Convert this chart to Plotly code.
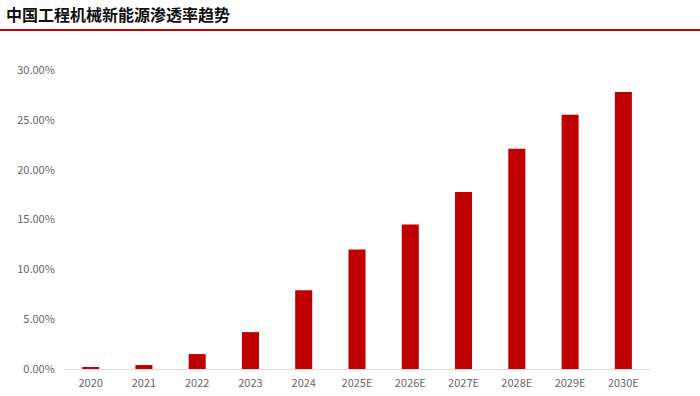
import plotly.graph_objects as go

years = ["2020", "2021", "2022", "2023", "2024", "2025E", "2026E", "2027E", "2028E", "2029E", "2030E"]
penetration = [0.002, 0.004, 0.015, 0.037, 0.079, 0.120, 0.145, 0.1775, 0.221, 0.255, 0.278]
y_ticks = [0, 0.05, 0.10, 0.15, 0.20, 0.25, 0.30]
title_text = "中国工程机械新能源渗透率趋势"

fig = go.Figure(go.Bar(x=years, y=penetration, marker=dict(color="#C00000", line=dict(width=0)), width=0.32))

fig.update_layout(
    width=700, height=396,
    margin=dict(l=64, r=50, t=70, b=27),
    paper_bgcolor="white", plot_bgcolor="white",
    font=dict(family="Noto Sans CJK SC, Roboto, sans-serif", color="#595959", size=11),
    showlegend=False,
    xaxis=dict(showline=True, linecolor="#D9D9D9", linewidth=1, showgrid=False, automargin=False,
               ticks="outside", ticklen=4, tickcolor="rgba(0,0,0,0)",
               tickfont=dict(size=11, color="#666666")),
    yaxis=dict(range=[0, 0.30], tickvals=y_ticks, tickformat=".2%", showgrid=False, automargin=False,
               zeroline=False, showline=False, ticks="outside", ticklen=6, tickcolor="rgba(0,0,0,0)",
               tickfont=dict(size=11, color="#666666")),
    shapes=[dict(type="line", xref="paper", yref="paper", x0=-64/586, x1=(700-64)/586,
                 y0=(396-27-30)/299, y1=(396-27-30)/299, line=dict(color="#C00000", width=2))],
    annotations=[dict(text="<b>" + title_text + "</b>", xref="paper", yref="paper",
                      x=-60/586, y=(396-27-14)/299, xanchor="left", yanchor="middle", showarrow=False,
                      font=dict(size=16, color="#111111", family="Noto Sans CJK SC"))],
)

fig.write_html("out.html")
